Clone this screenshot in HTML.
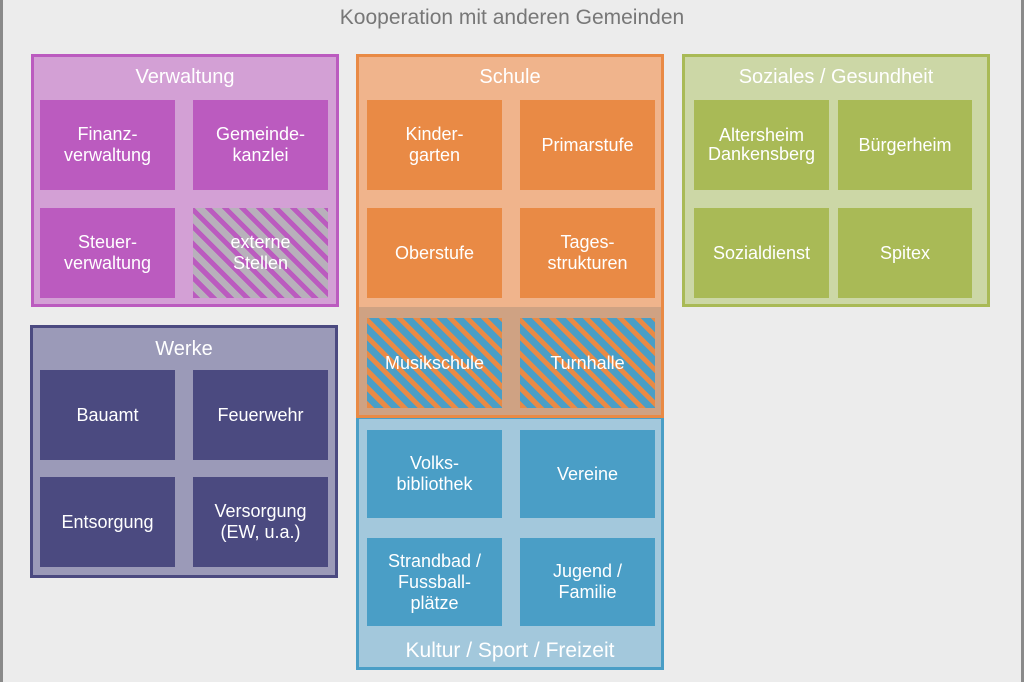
<!DOCTYPE html>
<html><head><meta charset="utf-8"><style>
body{margin:0;width:1024px;height:682px;background:#ececec;position:relative;overflow:hidden;font-family:"Liberation Sans",sans-serif;color:#fff}
.a{position:absolute;box-sizing:border-box}
.t{display:flex;align-items:center;justify-content:center;text-align:center;font-size:18px;line-height:21px}
.h{position:absolute;left:0;right:0;text-align:center;font-size:20px}
.vb{background:#bb5bbf}.wb{background:#4b4a80}.sb{background:#e98a45}.kb{background:#4a9ec6}.gb{background:#a9ba56}
</style></head><body>
<div class="a" style="left:0;top:0;width:3px;height:682px;background:#8a8a8a"></div>
<div class="a" style="left:1021px;top:0;width:3px;height:682px;background:#8a8a8a"></div>
<div class="h" style="top:6px;color:#777;font-size:21px">Kooperation mit anderen Gemeinden</div>

<!-- Verwaltung -->
<div class="a" style="left:31px;top:54px;width:308px;height:253px;background:#d3a0d5;border:3px solid #bb5bbf"><div class="h" style="top:9px">Verwaltung</div></div>
<div class="a t vb" style="left:40px;top:100px;width:135px;height:90px">Finanz-<br>verwaltung</div>
<div class="a t vb" style="left:193px;top:100px;width:135px;height:90px">Gemeinde-<br>kanzlei</div>
<div class="a t vb" style="left:40px;top:208px;width:135px;height:90px">Steuer-<br>verwaltung</div>
<div class="a t" style="left:193px;top:208px;width:135px;height:90px;background:repeating-linear-gradient(45deg,#bb5bbf 0 5px,#b8b0bb 5px 12px)">externe<br>Stellen</div>

<!-- Werke -->
<div class="a" style="left:30px;top:325px;width:308px;height:253px;background:#9b9ab8;border:3px solid #4b4a80"><div class="h" style="top:10px">Werke</div></div>
<div class="a t wb" style="left:40px;top:370px;width:135px;height:90px">Bauamt</div>
<div class="a t wb" style="left:193px;top:370px;width:135px;height:90px">Feuerwehr</div>
<div class="a t wb" style="left:40px;top:477px;width:135px;height:90px">Entsorgung</div>
<div class="a t wb" style="left:193px;top:477px;width:135px;height:90px">Versorgung<br>(EW, u.a.)</div>

<!-- Kultur -->
<div class="a" style="left:356px;top:416px;width:308px;height:254px;background:#a3c8dc;border:3px solid #4a9ec6"><div class="h" style="top:220px;font-size:21px">Kultur / Sport / Freizeit</div></div>
<div class="a t kb" style="left:367px;top:430px;width:135px;height:88px">Volks-<br>bibliothek</div>
<div class="a t kb" style="left:520px;top:430px;width:135px;height:88px">Vereine</div>
<div class="a t kb" style="left:367px;top:538px;width:135px;height:88px">Strandbad /<br>Fussball-<br>plätze</div>
<div class="a t kb" style="left:520px;top:538px;width:135px;height:88px">Jugend /<br>Familie</div>

<!-- Schule -->
<div class="a" style="left:356px;top:54px;width:308px;height:364px;background:#f0b48c;border:3px solid #e98a45"><div class="h" style="top:9px">Schule</div></div>
<div class="a" style="left:359px;top:307px;width:302px;height:108px;background:#cfa283"></div>
<div class="a t sb" style="left:367px;top:100px;width:135px;height:90px">Kinder-<br>garten</div>
<div class="a t sb" style="left:520px;top:100px;width:135px;height:90px">Primarstufe</div>
<div class="a t sb" style="left:367px;top:208px;width:135px;height:90px">Oberstufe</div>
<div class="a t sb" style="left:520px;top:208px;width:135px;height:90px">Tages-<br>strukturen</div>
<div class="a t" style="left:367px;top:318px;width:135px;height:90px;background:repeating-linear-gradient(45deg,#e98a45 0 5px,#4a9ec6 5px 12px)">Musikschule</div>
<div class="a t" style="left:520px;top:318px;width:135px;height:90px;background:repeating-linear-gradient(45deg,#e98a45 0 5px,#4a9ec6 5px 12px)">Turnhalle</div>

<!-- Soziales -->
<div class="a" style="left:682px;top:54px;width:308px;height:253px;background:#ccd7a6;border:3px solid #a9ba56"><div class="h" style="top:9px">Soziales / Gesundheit</div></div>
<div class="a t gb" style="left:694px;top:100px;width:135px;height:90px;line-height:19px">Altersheim<br>Dankensberg</div>
<div class="a t gb" style="left:838px;top:100px;width:134px;height:90px">Bürgerheim</div>
<div class="a t gb" style="left:694px;top:208px;width:135px;height:90px">Sozialdienst</div>
<div class="a t gb" style="left:838px;top:208px;width:134px;height:90px">Spitex</div>
</body></html>
